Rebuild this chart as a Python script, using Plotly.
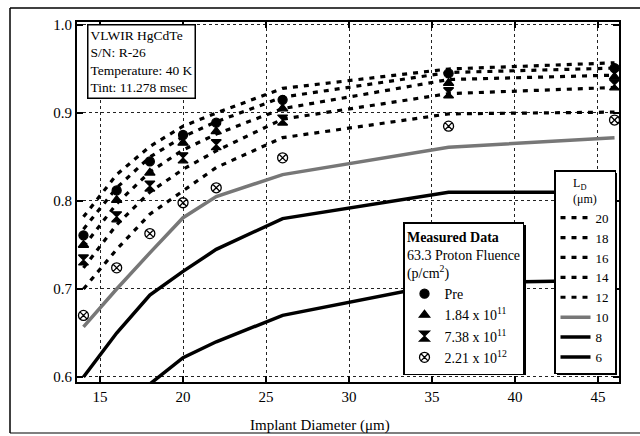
import plotly.graph_objects as go

# ---------------- data ----------------
diam = [14, 16, 18, 20, 22, 26, 36, 46]

fluence_labels = ["Pre", "1.84 x 10<sup>11</sup>", "7.38 x 10<sup>11</sup>", "2.21 x 10<sup>12</sup>"]
eff_pre = [0.761, 0.812, 0.845, 0.875, 0.889, 0.915, 0.945, 0.951]
eff_184e11 = [0.750, 0.801, 0.832, 0.866, 0.879, 0.905, 0.934, 0.941]
eff_738e11 = [0.733, 0.782, 0.817, 0.849, 0.864, 0.892, 0.923, 0.932]
eff_221e12 = [0.670, 0.724, 0.763, 0.798, 0.815, 0.849, 0.885, 0.892]

ld_labels = ["20", "18", "16", "14", "12", "10", "8", "6"]
model_ld20 = [0.782, 0.830, 0.862, 0.885, 0.900, 0.928, 0.950, 0.957]
model_ld18 = [0.768, 0.815, 0.850, 0.873, 0.890, 0.918, 0.946, 0.951]
model_ld16 = [0.748, 0.797, 0.833, 0.858, 0.876, 0.905, 0.938, 0.943]
model_ld14 = [0.724, 0.773, 0.810, 0.836, 0.857, 0.893, 0.922, 0.929]
model_ld12 = [0.700, 0.745, 0.785, 0.812, 0.838, 0.872, 0.899, 0.901]
model_ld10 = [0.657, 0.700, 0.741, 0.781, 0.805, 0.830, 0.861, 0.872]
model_ld8 = [0.600, 0.650, 0.693, 0.720, 0.745, 0.780, 0.810, 0.810]
model_ld6 = [None, None, 0.592, 0.622, 0.640, 0.670, 0.707, 0.710]

x_ticks = [15, 20, 25, 30, 35, 40, 45]
y_ticks = [0.6, 0.7, 0.8, 0.9, 1.0]
y_ticklabels = ["0.6", "0.7", "0.8", "0.9", "1.0"]

info_lines = ["VLWIR HgCdTe", "S/N: R-26", "Temperature: 40 K", "Tint: 11.278 msec"]

# ---------------- figure ----------------
W, H = 640, 436
ML, MR, MT, MB = 77, 21, 22, 54
PW, PH = W - ML - MR, H - MT - MB


def px_x(p):
    return (p - ML) / PW


def px_y(p):
    return (H - MB - p) / PH


SERIF = "Liberation Serif"
fig = go.Figure()

models = [model_ld20, model_ld18, model_ld16, model_ld14, model_ld12, model_ld10, model_ld8, model_ld6]
for lab, ys in zip(ld_labels, models):
    if lab in ("20", "18", "16", "14", "12"):
        line = dict(color="black", width=3.2, dash="5px,6px")
    elif lab == "10":
        line = dict(color="#777777", width=3.5)
    else:
        line = dict(color="black", width=3.5)
    fig.add_trace(go.Scatter(x=diam, y=ys, mode="lines", line=line, name=lab,
                             legend="legend2", connectgaps=False))

meas = [eff_pre, eff_184e11, eff_738e11, eff_221e12]
symbols = ["circle", "triangle-up", "hourglass", "circle-x-open"]
sizes = [9, 9, 10, 10]
for lab, ys, sym, sz in zip(fluence_labels, meas, symbols, sizes):
    fig.add_trace(go.Scatter(x=diam, y=ys, mode="markers", name=lab, legend="legend",
                             marker=dict(symbol=sym, size=sz, color="black",
                                         line=dict(color="black", width=1.3))))

axis_common = dict(
    showline=True, linecolor="black", linewidth=2, mirror="ticks",
    ticks="inside", ticklen=6, tickwidth=2, tickcolor="black",
    showgrid=True, gridcolor="#222", gridwidth=1, griddash="dot",
    zeroline=False, tickfont=dict(family=SERIF, size=15, color="black"),
)

fig.update_layout(
    width=W, height=H, margin=dict(l=ML, r=MR, t=MT, b=MB),
    paper_bgcolor="white", plot_bgcolor="white",
    xaxis=dict(range=[13.61, 46.27], tickvals=x_ticks, **axis_common),
    yaxis=dict(range=[0.5943, 1.0034], tickvals=y_ticks, ticktext=y_ticklabels, **axis_common),
    legend=dict(
        x=px_x(403), y=px_y(222), xanchor="left", yanchor="top",
        bgcolor="white", bordercolor="black", borderwidth=1.5,
        font=dict(family=SERIF, size=14, color="black"),
        title=dict(text="<b>Measured Data</b><br>63.3 Proton Fluence<br>(p/cm<sup>2</sup>)",
                   side="top center", font=dict(family=SERIF, size=14, color="black")),
        itemwidth=30, tracegroupgap=0,
    ),
    legend2=dict(
        x=px_x(554), y=px_y(170), xanchor="left", yanchor="top",
        bgcolor="white", bordercolor="black", borderwidth=1.5,
        font=dict(family=SERIF, size=13, color="black"),
        title=dict(text="L<sub>D</sub><br>(μm)", side="top center",
                   font=dict(family=SERIF, size=12, color="black")),
        itemwidth=30, tracegroupgap=0,
    ),
    showlegend=True,
)

# legend shadows (thicker right/bottom edges, as in the original)
fig.add_shape(type="rect", xref="paper", yref="paper", layer="above",
              x0=px_x(406), x1=px_x(526), y0=px_y(225), y1=px_y(375),
              fillcolor="black", line=dict(width=0))
fig.add_shape(type="rect", xref="paper", yref="paper", layer="above",
              x0=px_x(557), x1=px_x(617), y0=px_y(173), y1=px_y(375),
              fillcolor="black", line=dict(width=0))

# info box
fig.add_annotation(
    text="<br>".join(info_lines), xref="paper", yref="paper",
    x=px_x(87), y=px_y(24), xanchor="left", yanchor="top", align="left",
    showarrow=False, font=dict(family=SERIF, size=13.5, color="black"),
    bgcolor="white", bordercolor="black", borderwidth=1.5, borderpad=2,
)

# axis title
fig.add_annotation(
    text="Implant Diameter (μm)", xref="paper", yref="paper",
    x=px_x(320), y=px_y(425), xanchor="center", yanchor="middle",
    showarrow=False, font=dict(family=SERIF, size=15, color="black"),
)

# outer frame
fig.add_shape(type="line", xref="paper", yref="paper", x0=px_x(10), x1=px_x(10),
              y0=px_y(8), y1=px_y(433), line=dict(color="black", width=1.5))
fig.add_shape(type="line", xref="paper", yref="paper", x0=px_x(10), x1=px_x(640),
              y0=px_y(8), y1=px_y(8), line=dict(color="black", width=1.5))
fig.add_shape(type="line", xref="paper", yref="paper", x0=px_x(10), x1=px_x(640),
              y0=px_y(433), y1=px_y(433), line=dict(color="black", width=1.2))

fig.write_html("out.html")
